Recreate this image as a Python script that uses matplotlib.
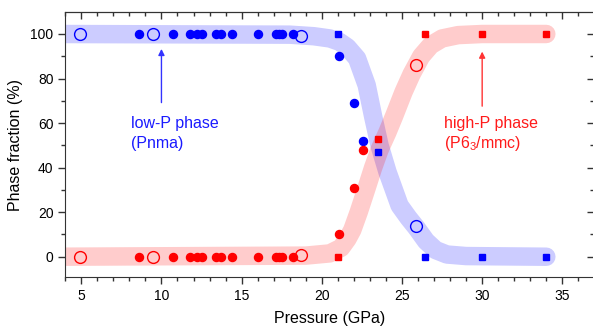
import numpy as np
import matplotlib
matplotlib.use('Agg')
import matplotlib.pyplot as plt
from matplotlib.ticker import MultipleLocator

plt.rcParams['font.family'] = ['Liberation Sans', 'DejaVu Sans']
plt.rcParams['mathtext.fontset'] = 'custom'
plt.rcParams['mathtext.rm'] = 'Liberation Sans'

# low-pressure ambient runs (filled circles), same pressures for both phases
p_filled = [8.6, 10.7, 11.8, 12.2, 12.5, 13.4, 13.7, 14.4, 16.0, 17.15, 17.35, 17.5, 18.2, 21.05, 22.0, 22.55]
low_filled = [100, 100, 100, 100, 100, 100, 100, 100, 100, 100, 100, 100, 100, 90, 69, 52]
high_filled = [0, 0, 0, 0, 0, 0, 0, 0, 0, 0, 0, 0, 0, 10, 31, 48]

# open circles
p_open = [4.9, 9.45, 18.7, 25.85]
low_open = [100, 100, 99, 14]
high_open = [0, 0, 1, 86]

# squares
p_sq = [21.0, 23.5, 26.45, 30.0, 33.95]
low_sq = [100, 47, 0, 0, 0]
high_sq = [0, 53, 100, 100, 100]

# guide bands
band_low_p = [3.5, 18.0, 19.5, 20.5, 21.1, 21.6, 22.2, 22.8, 23.2, 23.6, 24.1, 24.85, 25.4, 25.9, 26.5, 27.1, 27.8, 29.0, 34.0]
band_low_y = [100, 99.7, 99, 98, 96.5, 94, 89, 77, 63, 50, 38, 23, 17.5, 13, 7, 3, 1, 0.3, 0]
band_high_p = [3.5, 19.0, 20.5, 21.2, 21.6, 21.9, 22.3, 22.8, 23.2, 23.6, 24.1, 24.5, 25.1, 25.6, 26.2, 26.8, 27.5, 28.5, 30.0, 34.0]
band_high_y = [0, 0.5, 1.5, 4, 8, 12, 20, 31, 40, 48, 56, 63, 74, 82, 90, 95, 98, 99.5, 100, 100]

blue = '#0000ff'
red = '#ff0000'

fig = plt.figure(figsize=(5.93, 3.26), dpi=100)
ax = fig.add_axes([0.110, 0.151, 0.8924, 0.811])

ax.plot(band_low_p, band_low_y, color=blue, alpha=0.2, lw=13.3,
        solid_capstyle='round', solid_joinstyle='round', zorder=1)
ax.plot(band_high_p, band_high_y, color=red, alpha=0.2, lw=13.3,
        solid_capstyle='round', solid_joinstyle='round', zorder=1)

ax.plot(p_filled, low_filled, 'o', color=blue, ms=5.8, mec=blue, zorder=3)
ax.plot(p_filled, high_filled, 'o', color=red, ms=5.8, mec=red, zorder=3)
ax.plot(p_open, low_open, 'o', mfc='none', mec=blue, ms=8.5, mew=1.0, zorder=3)
ax.plot(p_open, high_open, 'o', mfc='none', mec=red, ms=8.5, mew=1.0, zorder=3)
ax.plot(p_sq, low_sq, 's', color=blue, ms=5.0, zorder=3)
ax.plot(p_sq, high_sq, 's', color=red, ms=5.0, zorder=3)

ax.annotate('', xy=(10.0, 93.3), xytext=(10.0, 69.2),
            arrowprops=dict(arrowstyle='-|>', color='#3333ff', lw=1.0, mutation_scale=9,
                            shrinkA=0, shrinkB=0))
ax.annotate('', xy=(30.0, 92.1), xytext=(30.0, 67.6),
            arrowprops=dict(arrowstyle='-|>', color='#ff3333', lw=1.0, mutation_scale=9,
                            shrinkA=0, shrinkB=0))

ax.text(8.1, 59.6, 'low-P phase', color='#1a1aff', fontsize=11.5, va='center', ha='left')
ax.text(8.1, 51.0, '(Pnma)', color='#1a1aff', fontsize=11.5, va='center', ha='left')
ax.text(27.65, 59.6, 'high-P phase', color='#ff1a1a', fontsize=11.5, va='center', ha='left')
ax.text(27.65, 51.0, '(P6$_3$/mmc)', color='#ff1a1a', fontsize=11.5, va='center', ha='left')

ax.set_xlim(4, 37)
ax.set_ylim(-9, 109.7)
ax.xaxis.set_major_locator(MultipleLocator(5))
ax.xaxis.set_minor_locator(MultipleLocator(1))
ax.yaxis.set_major_locator(MultipleLocator(20))
ax.yaxis.set_minor_locator(MultipleLocator(10))

ax.tick_params(which='both', direction='out', top=False, right=False, labelsize=10, color='#333333')
ax.tick_params(which='major', length=5, width=1)
ax.tick_params(which='minor', length=3, width=1)

# mirrored ticks on top and right, pointing inwards
sec_x = ax.secondary_xaxis('top')
sec_x.xaxis.set_major_locator(MultipleLocator(5))
sec_x.xaxis.set_minor_locator(MultipleLocator(1))
sec_x.tick_params(which='both', direction='in', labeltop=False, color='#333333')
sec_x.tick_params(which='major', length=5, width=1)
sec_x.tick_params(which='minor', length=3, width=1)
sec_y = ax.secondary_yaxis('right')
sec_y.yaxis.set_major_locator(MultipleLocator(20))
sec_y.yaxis.set_minor_locator(MultipleLocator(10))
sec_y.tick_params(which='both', direction='in', labelright=False, color='#333333')
sec_y.tick_params(which='major', length=5, width=1)
sec_y.tick_params(which='minor', length=3, width=1)

for s in ax.spines.values():
    s.set_color('#333333')

ax.set_xlabel('Pressure (GPa)', fontsize=11.5, labelpad=6)
ax.set_ylabel('Phase fraction (%)', fontsize=11.5, labelpad=5)

plt.savefig('out.png', dpi=100)
